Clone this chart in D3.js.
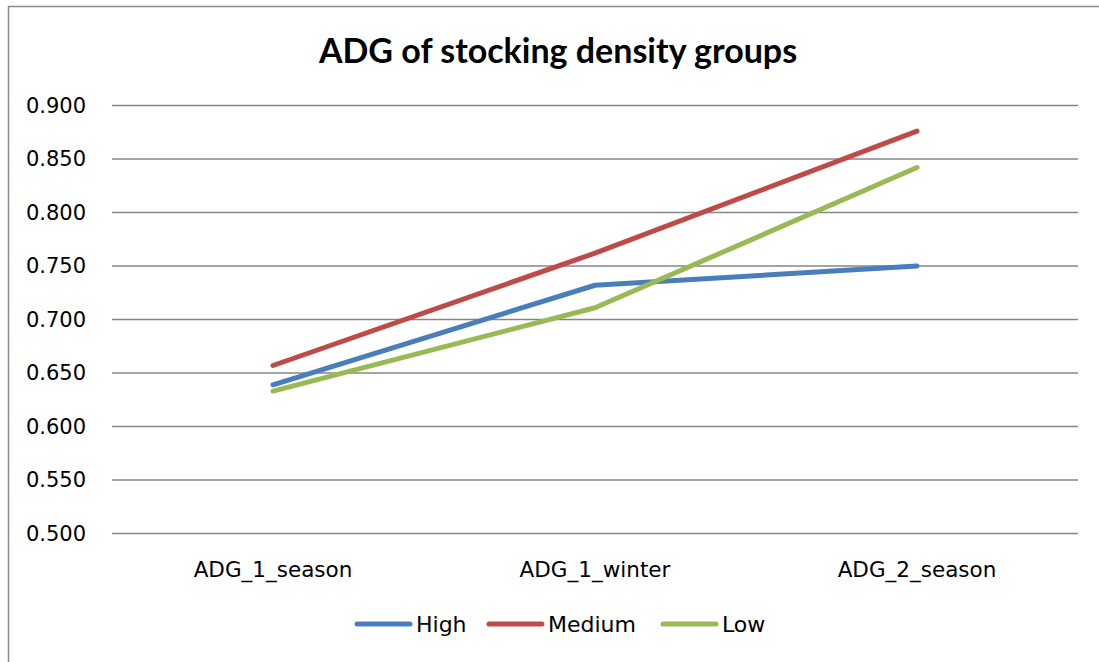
<!DOCTYPE html>
<html lang="en">
<head>
<meta charset="UTF-8">
<title>ADG of stocking density groups</title>
<style>
  body { margin: 0; background: #fff; }
  svg text { font-family: "DejaVu Sans", sans-serif; fill: #000; }
</style>
</head>
<body>
<div id="chart"></div>
<script src="https://d3js.org/d3.v7.min.js"></script>
<script>
// data
const categories = ["ADG_1_season", "ADG_1_winter", "ADG_2_season"];
const high = [0.639, 0.732, 0.750];
const medium = [0.657, 0.762, 0.876];
const low = [0.633, 0.711, 0.842];
const yTicks = [0.500, 0.550, 0.600, 0.650, 0.700, 0.750, 0.800, 0.850, 0.900];

const series = [
  { name: "High", values: high, color: "#4a7ebb" },
  { name: "Medium", values: medium, color: "#be4b48" },
  { name: "Low", values: low, color: "#98b954" }
];

const W = 1099, H = 662;
const margin = { left: 112, right: 21, top: 105.5, bottom: 128.5 };

const svg = d3.select("#chart").append("svg")
  .attr("width", W).attr("height", H);

// outer frame
svg.append("rect")
  .attr("x", 8.5).attr("y", 6.5)
  .attr("width", W + 10).attr("height", H + 10)
  .attr("fill", "none").attr("stroke", "#8c8c8c").attr("stroke-width", 1.5);

const x = d3.scaleBand()
  .domain(categories)
  .range([margin.left, W - margin.right]);

const y = d3.scaleLinear()
  .domain([0.5, 0.9])
  .range([H - margin.bottom, margin.top]);

// gridlines
svg.append("g")
  .selectAll("line")
  .data(yTicks)
  .join("line")
  .attr("x1", margin.left).attr("x2", W - margin.right)
  .attr("y1", d => y(d)).attr("y2", d => y(d))
  .attr("stroke", "#868686").attr("stroke-width", 1.5);

// y labels
svg.append("g")
  .selectAll("text")
  .data(yTicks)
  .join("text")
  .attr("x", 86).attr("y", d => y(d))
  .attr("dy", "0.35em")
  .attr("text-anchor", "end")
  .style("font-size", "21px")
  .text(d => d3.format(".3f")(d));

// x labels
svg.append("g")
  .selectAll("text")
  .data(categories)
  .join("text")
  .attr("x", d => x(d) + x.bandwidth() / 2)
  .attr("y", 577)
  .attr("text-anchor", "middle")
  .style("font-size", "21.5px")
  .text(d => d);

// lines
const line = d3.line()
  .x((d, i) => x(categories[i]) + x.bandwidth() / 2)
  .y(d => y(d));

svg.append("g")
  .selectAll("path")
  .data(series)
  .join("path")
  .attr("d", d => line(d.values))
  .attr("fill", "none")
  .attr("stroke", d => d.color)
  .attr("stroke-width", 5)
  .attr("stroke-linecap", "round")
  .attr("stroke-linejoin", "round");

// title
svg.append("text")
  .attr("x", 558).attr("y", 63)
  .attr("text-anchor", "middle")
  .style("font-family", "Lato, 'Open Sans', sans-serif")
  .style("font-size", "34px")
  .style("font-weight", "bold")
  .text("ADG of stocking density groups");

// legend
const legendX = [357, 489, 663];
const leg = svg.append("g")
  .selectAll("g")
  .data(series)
  .join("g")
  .attr("transform", (d, i) => `translate(${legendX[i]},624)`);

leg.append("line")
  .attr("x1", 0).attr("x2", 53)
  .attr("stroke", d => d.color)
  .attr("stroke-width", 5)
  .attr("stroke-linecap", "round");

leg.append("text")
  .attr("x", 59).attr("dy", "0.35em")
  .style("font-size", "22px")
  .text(d => d.name);
</script>
</body>
</html>
